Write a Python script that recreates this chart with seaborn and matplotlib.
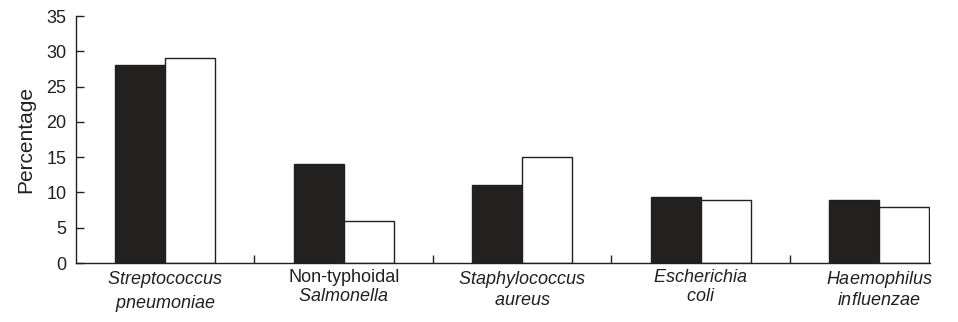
import matplotlib
matplotlib.use("Agg")
import matplotlib.pyplot as plt
import seaborn as sns
import pandas as pd

categories = ["Streptococcus pneumoniae", "Non-typhoidal Salmonella",
              "Staphylococcus aureus", "Escherichia coli", "Haemophilus influenzae"]
tick_labels = ["$\\mathit{Streptococcus}$\n$\\mathit{pneumoniae}$",
               "Non-typhoidal\n$\\mathit{Salmonella}$",
               "$\\mathit{Staphylococcus}$\n$\\mathit{aureus}$",
               "$\\mathit{Escherichia}$\n$\\mathit{coli}$",
               "$\\mathit{Haemophilus}$\n$\\mathit{influenzae}$"]
series_a = [28, 14, 11, 9.4, 8.9]
series_b = [29, 6, 15, 8.9, 7.9]
series_names = ["Series A", "Series B"]
y_ticks = [0, 5, 10, 15, 20, 25, 30, 35]

df = pd.DataFrame({
    "category": categories * 2,
    "value": series_a + series_b,
    "series": [series_names[0]] * len(categories) + [series_names[1]] * len(categories),
})

sns.set_theme(style="ticks")
plt.rcParams["font.family"] = ["Liberation Sans", "DejaVu Sans"]
plt.rcParams["mathtext.fontset"] = "custom"
plt.rcParams["mathtext.rm"] = "Liberation Sans"
plt.rcParams["mathtext.it"] = "Liberation Sans:italic"

fig = plt.figure(figsize=(9.58, 3.22), dpi=100)
ax = fig.add_axes([76 / 958, 1 - 263 / 322, (930 - 76) / 958, (263 - 16) / 322])

dark = "#231f20"
sns.barplot(data=df, x="category", y="value", hue="series", order=categories,
            hue_order=series_names,
            palette={series_names[0]: dark, series_names[1]: "white"},
            edgecolor=dark, linewidth=1.0, width=0.56, ax=ax, legend=False)

ax.set_xlim(-0.5, 4.285)
ax.set_ylim(0, 35)
ax.set_yticks(y_ticks)
ax.set_yticklabels([str(t) for t in y_ticks], fontsize=13, color=dark)
ax.set_xticks(range(len(categories)))
ax.set_xticklabels(tick_labels, fontsize=13, color=dark, linespacing=1.2)
ax.set_xticks([0.5, 1.5, 2.5, 3.5], minor=True)
ax.tick_params(axis="x", which="major", length=0, pad=4)
ax.tick_params(axis="x", which="minor", direction="in", length=6, width=1.0, color=dark)
ax.tick_params(axis="y", direction="in", length=6, width=1.0, color=dark, pad=7)
ax.set_xlabel("")
ax.set_ylabel("Percentage", fontsize=15, color=dark, labelpad=8)

for s in ["top", "right"]:
    ax.spines[s].set_visible(False)
for s in ["left", "bottom"]:
    ax.spines[s].set_linewidth(1.0)
    ax.spines[s].set_color(dark)

fig.savefig("out.png", dpi=100)
